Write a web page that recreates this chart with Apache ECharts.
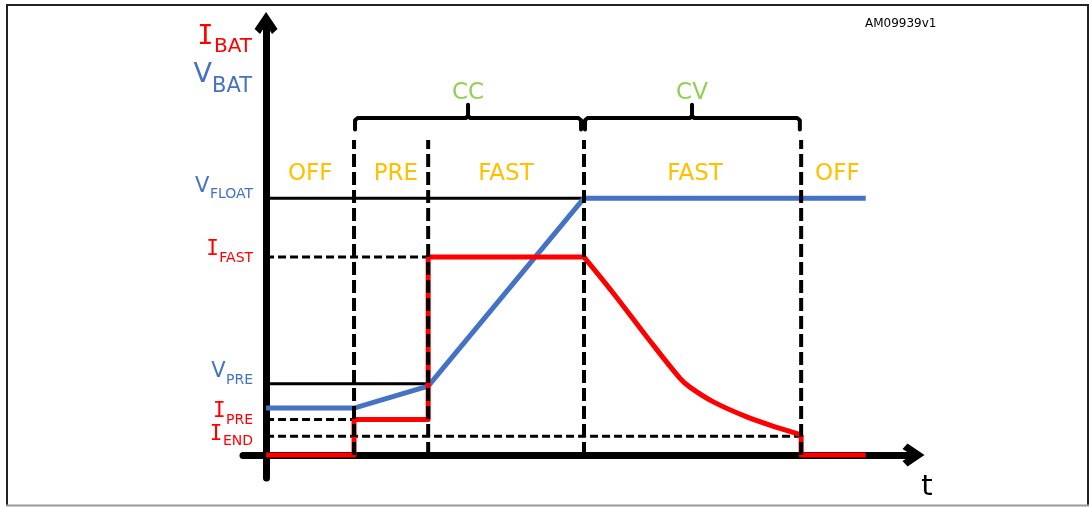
<!DOCTYPE html>
<html><head><meta charset="utf-8">
<script src="https://cdn.jsdelivr.net/npm/echarts@6/dist/echarts.min.js"></script>
<style>html,body{margin:0;padding:0;background:#fff}#c{width:1091px;height:507px}</style>
</head><body><div id="c"></div>
<script>
// ---------- data ----------
const stageBounds = [0, 13.35, 24.6, 48.25, 81.2, 91];
const stageNames = ['OFF', 'PRE', 'FAST', 'FAST', 'OFF'];
const stageLabelT = [6.7, 19.7, 36.4, 65.1, 86.7];
const stageLabelV = 64.3;
const dashTopV = 71.6;
const modeNames = ['CC', 'CV'];
const modeBraceT = [[13.5, 30.65, 47.8], [48.4, 64.64, 81.0]];
const modeLabelV = 82.6;
const braceV = [74.0, 76.6, 79.6];
const vbatT = [0, 13.35, 24.6, 48.25, 91];
const vbatV = [10.7, 10.7, 15.7, 58.4, 58.4];
const ibatStepT = [0, 13.35, 13.35, 24.6, 24.6, 48.25];
const ibatStepV = [0, 0, 8.1, 8.1, 45.0, 45.0];
const ibatCurveT = [48.25, 52.7, 57.77, 62.82, 64.37, 67.88, 72.95, 78.0, 81.2];
const ibatCurveV = [45.0, 36.8, 26.9, 17.45, 15.4, 12.1, 8.7, 6.07, 4.6];
const ibatOffT = [81.2, 81.2, 91];
const ibatOffV = [4.6, 0, 0];
const levelMain = ['V', 'I', 'V', 'I', 'I'];
const levelSub = ['FLOAT', 'FAST', 'PRE', 'PRE', 'END'];
const levelV = [58.4, 45.0, 16.2, 8.1, 4.3];
const levelEndT = [48.25, 24.6, 24.6, 13.35, 81.2];
const levelDashed = [false, true, false, true, true];
const levelIsCurrent = [false, true, false, true, true];

// ---------- style ----------
const BLUE = '#4472C4', RED = '#FF0000', ORANGE = '#FFC000', GREEN = '#92D050';
const FONT = 'DejaVu Sans';
const xMin = -3.5, xMax = 98.25, yMin = -5.2, yMax = 98.2;
const chevron = 'path://M11.5,0 L23,17 L17.5,22 L11.5,12.5 L5.5,22 L0,17 Z';
const mainDy = [-13.5, -9.5, -13.5, -9, -3.5];
const subDy = [-5.5, 0, -4.5, -0.5, 3.5];
const TEXT_SHIFT = 1.5;

const chart = echarts.init(document.getElementById('c'), null, {renderer: 'canvas'});

function axis(min, max) {
  return {
    type: 'value', min: min, max: max,
    axisLine: {show: true, onZero: true, lineStyle: {color: '#000', width: 7},
      symbol: ['none', chevron], symbolSize: [23, 22]},
    axisTick: {show: false}, axisLabel: {show: false}, splitLine: {show: false}
  };
}
function pairs(ts, vs) { return ts.map((t, i) => [t, vs[i]]); }

const series = [];
levelV.forEach((v, i) => {
  series.push({
    type: 'line', z: 2, symbol: 'none', silent: true,
    data: [[0, v], [levelEndT[i], v]],
    lineStyle: {color: '#000', width: 3, type: levelDashed[i] ? [8, 4] : 'solid'}
  });
});
series.push({
  type: 'line', z: 3, symbol: 'none', silent: true,
  data: pairs(vbatT, vbatV),
  lineStyle: {color: BLUE, width: 5, join: 'round'}
});
const redStyle = {color: RED, width: 5, join: 'round'};
series.push({type: 'line', z: 4, symbol: 'none', silent: true, data: pairs(ibatStepT, ibatStepV), lineStyle: redStyle});
series.push({type: 'line', z: 4, symbol: 'none', silent: true, smooth: 0.35, data: pairs(ibatCurveT, ibatCurveV), lineStyle: redStyle});
series.push({type: 'line', z: 4, symbol: 'none', silent: true, data: pairs(ibatOffT, ibatOffV), lineStyle: redStyle});
stageBounds.slice(1, 5).forEach(t => {
  series.push({
    type: 'line', z: 5, symbol: 'none', silent: true,
    data: [[t, 0], [t, dashTopV]],
    lineStyle: {color: '#000', width: 4, type: [13, 5]}
  });
});
modeBraceT.forEach(b => {
  const a = b[0], m = b[1], e = b[2];
  series.push({
    type: 'line', z: 5, symbol: 'none', silent: true,
    data: [[a, braceV[0]], [a, braceV[1] - 0.5], [a + 0.4, braceV[1]], [m - 0.3, braceV[1]],
           [m, braceV[1] + 0.6], [m, braceV[2]], [m, braceV[1] + 0.6], [m + 0.3, braceV[1]],
           [e - 0.4, braceV[1]], [e, braceV[1] - 0.5], [e, braceV[0]]],
    lineStyle: {color: '#000', width: 4, join: 'round', cap: 'round'}
  });
});

chart.setOption({
  animation: false,
  backgroundColor: '#fff',
  grid: {left: 243, right: 177.5, top: 23, bottom: 29},
  xAxis: axis(xMin, xMax),
  yAxis: axis(yMin, yMax),
  series: series
});

// ---------- texts ----------
const ctx = document.createElement('canvas').getContext('2d');
function measure(s, size, fam) { ctx.font = size + 'px "' + fam + '"'; return ctx.measureText(s).width; }
function px(t, v) { return chart.convertToPixel({gridIndex: 0}, [t, v]); }
function txt(s, x, y, size, color, align, fam) {
  return {type: 'text', silent: true, z: 100,
    style: {text: s, x: x, y: y + TEXT_SHIFT, fontSize: size, fontFamily: fam || FONT, fill: color,
      align: align || 'center', verticalAlign: 'middle'}};
}
const g = [];
const origin = px(0, 0);
g.push({type: 'polyline', silent: true, z: 90, shape: {points: [[7, 505], [7, 5], [1088, 5], [1088, 505]]},
  style: {stroke: '#222', lineWidth: 2, fill: null}});
g.push({type: 'line', silent: true, z: 90, shape: {x1: 6, y1: 505.5, x2: 1089, y2: 505.5},
  style: {stroke: '#999', lineWidth: 2}});
levelV.forEach((v, i) => {
  const p = px(0, v);
  const right = p[0] - 13;
  const col = levelIsCurrent[i] ? RED : BLUE;
  const w = measure(levelSub[i], 14, FONT);
  g.push(txt(levelSub[i], right, p[1] + subDy[i], 14, col, 'right'));
  g.push(txt(levelMain[i], right - w - 0.5, p[1] + mainDy[i], 21, col, 'right',
    levelMain[i] === 'I' ? 'DejaVu Sans Mono' : FONT));
});
const tr = origin[0] - 14;
let wb = measure('BAT', 20, FONT);
g.push(txt('BAT', tr, 45, 20, RED, 'right'));
g.push(txt('I', tr - wb - 0.5, 35, 27, RED, 'right', 'DejaVu Sans Mono'));
wb = measure('BAT', 21, FONT);
g.push(txt('BAT', tr, 85, 21, BLUE, 'right'));
g.push(txt('V', tr - wb, 73, 27, BLUE, 'right'));
stageNames.forEach((s, i) => {
  const p = px(stageLabelT[i], stageLabelV);
  g.push(txt(s, p[0], p[1], 23, ORANGE));
});
modeNames.forEach((s, i) => {
  const p = px(modeBraceT[i][1], modeLabelV);
  g.push(txt(s, p[0], p[1], 23, GREEN));
});
g.push(txt('t', 927, 486, 29, '#000'));
g.push(txt('AM09939v1', 865, 22, 12, '#000', 'left'));
chart.setOption({graphic: {elements: g}});
</script>
</body></html>
